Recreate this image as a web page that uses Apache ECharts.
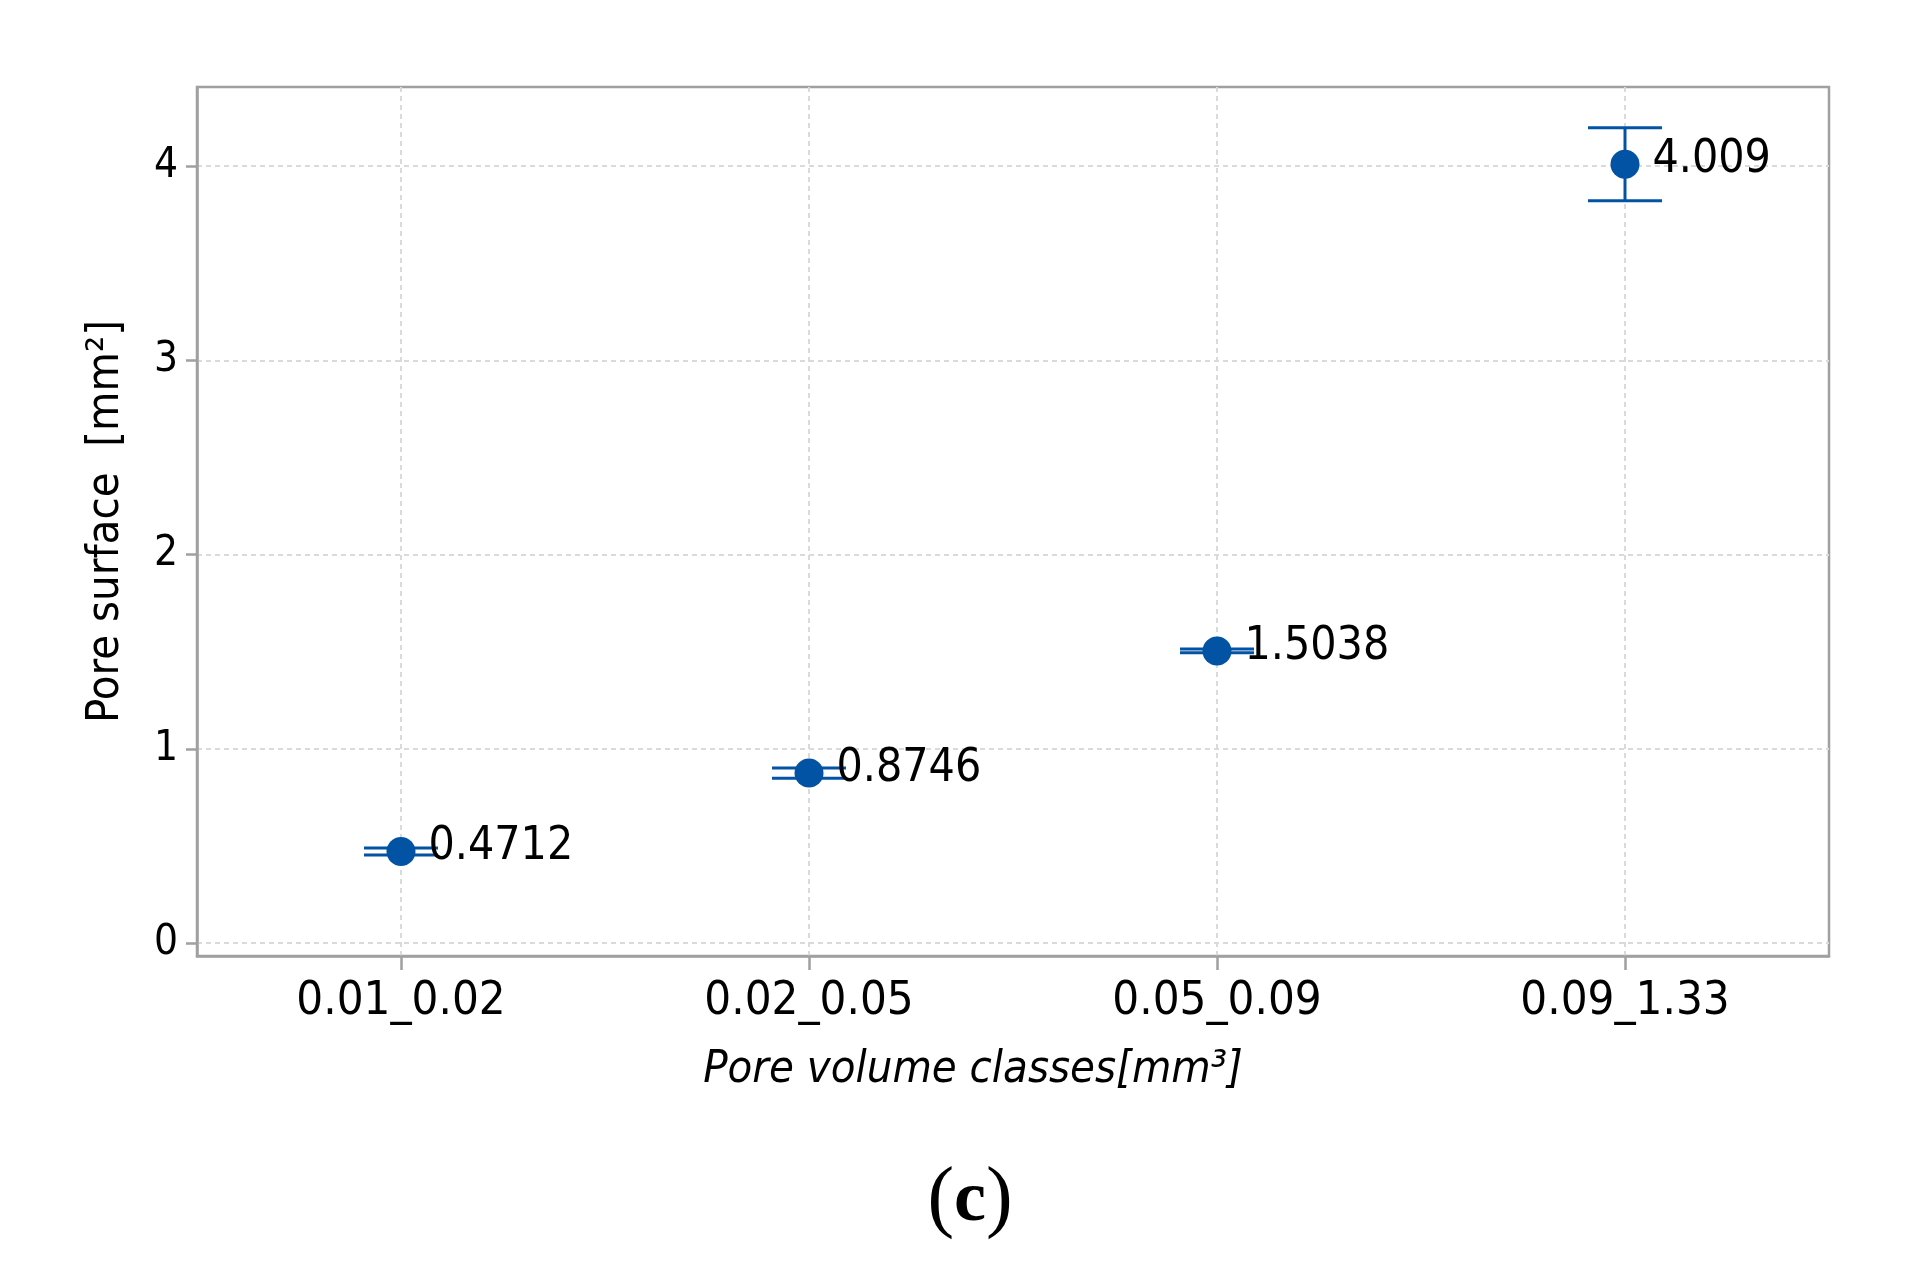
<!DOCTYPE html>
<html>
<head>
<meta charset="utf-8">
<script src="https://cdn.jsdelivr.net/npm/echarts@6/dist/echarts.min.js"></script>
<style>
html,body{margin:0;padding:0;background:#fff;}
#chart{width:1918px;height:1274px;}
</style>
</head>
<body>
<div id="chart"></div>
<script>
const categories = ['0.01_0.02', '0.02_0.05', '0.05_0.09', '0.09_1.33'];
const meanValues = [0.4712, 0.8746, 1.5038, 4.009];
const errorValues = [0.018, 0.026, 0.010, 0.188];
const yTicks = [0, 1, 2, 3, 4];
const xTicks = [0, 1, 2, 3];

const BLUE = '#0353A4';
const AXIS = '#a0a0a0';
const FONT = '"DejaVu Sans Condensed", "DejaVu Sans", sans-serif';

const pointData = meanValues.map((v, i) => [i, v]);
const errData = meanValues.map((v, i) => [i, v, errorValues[i]]);

const chart = echarts.init(document.getElementById('chart'), null, {renderer: 'canvas'});
chart.setOption({
  backgroundColor: '#ffffff',
  animation: false,
  title: {
    text: '{p|(}{c|c}{p|)}',
    left: 965,
    textAlign: 'center',
    top: 1156,
    textStyle: {
      rich: {
        p: {fontFamily: '"Liberation Serif", serif', fontSize: 80, fontWeight: 'normal', color: '#000'},
        c: {fontFamily: '"Liberation Serif", serif', fontSize: 72, fontWeight: 'bold', color: '#000'}
      }
    }
  },
  grid: {
    left: 197, right: 89, top: 87, bottom: 318,
    show: true, borderColor: AXIS, borderWidth: 2.5, backgroundColor: 'transparent'
  },
  xAxis: {
    type: 'value',
    min: -0.5,
    max: 3.5,
    name: 'Pore volume classes[mm\u00B3]',
    nameLocation: 'middle',
    nameGap: 92,
    nameTextStyle: {fontFamily: FONT, fontSize: 45, fontStyle: 'italic', color: '#000', padding: [0, 80, 0, 0]},
    axisLine: {show: true, onZero: false, lineStyle: {color: AXIS, width: 2.5}},
    axisTick: {show: true, length: 14, customValues: xTicks, lineStyle: {color: AXIS, width: 2.5}},
    axisLabel: {
      customValues: xTicks,
      margin: 22,
      fontFamily: FONT, fontSize: 47, color: '#000',
      formatter: (v) => categories[Math.round(v)]
    },
    splitLine: {show: true, lineStyle: {color: '#dadada', width: 2, type: [5, 4]}}
  },
  yAxis: {
    type: 'value',
    min: -0.067,
    max: 4.407,
    name: 'Pore surface  [mm\u00B2]',
    nameLocation: 'middle',
    nameGap: 68,
    nameTextStyle: {fontFamily: FONT, fontSize: 45, color: '#000'},
    axisLine: {show: true, onZero: false, lineStyle: {color: AXIS, width: 2.5}},
    axisTick: {show: true, length: 11, customValues: yTicks, lineStyle: {color: AXIS, width: 2.5}},
    axisLabel: {customValues: yTicks, margin: 19, fontFamily: FONT, fontSize: 42, color: '#000'},
    splitLine: {show: true, lineStyle: {color: '#dadada', width: 2, type: [5, 4]}}
  },
  series: [
    {
      type: 'custom',
      name: 'error',
      z: 2,
      data: errData,
      renderItem: function (params, api) {
        const x = api.value(0), y = api.value(1), e = api.value(2);
        const hi = api.coord([x, y + e]);
        const lo = api.coord([x, y - e]);
        const hw = 37;
        const st = {stroke: BLUE, lineWidth: 3};
        return {
          type: 'group',
          children: [
            {type: 'line', shape: {x1: hi[0], y1: hi[1], x2: lo[0], y2: lo[1]}, style: st},
            {type: 'line', shape: {x1: hi[0] - hw, y1: hi[1], x2: hi[0] + hw, y2: hi[1]}, style: st},
            {type: 'line', shape: {x1: lo[0] - hw, y1: lo[1], x2: lo[0] + hw, y2: lo[1]}, style: st}
          ]
        };
      }
    },
    {
      type: 'scatter',
      name: 'mean',
      z: 3,
      symbol: 'circle',
      symbolSize: 29,
      itemStyle: {color: BLUE, opacity: 1},
      data: pointData,
      label: {
        show: true,
        position: 'right',
        distance: 13,
        offset: [0, -4],
        fontFamily: FONT,
        fontSize: 46,
        color: '#000',
        formatter: (p) => String(meanValues[p.dataIndex])
      }
    }
  ]
});
</script>
</body>
</html>
